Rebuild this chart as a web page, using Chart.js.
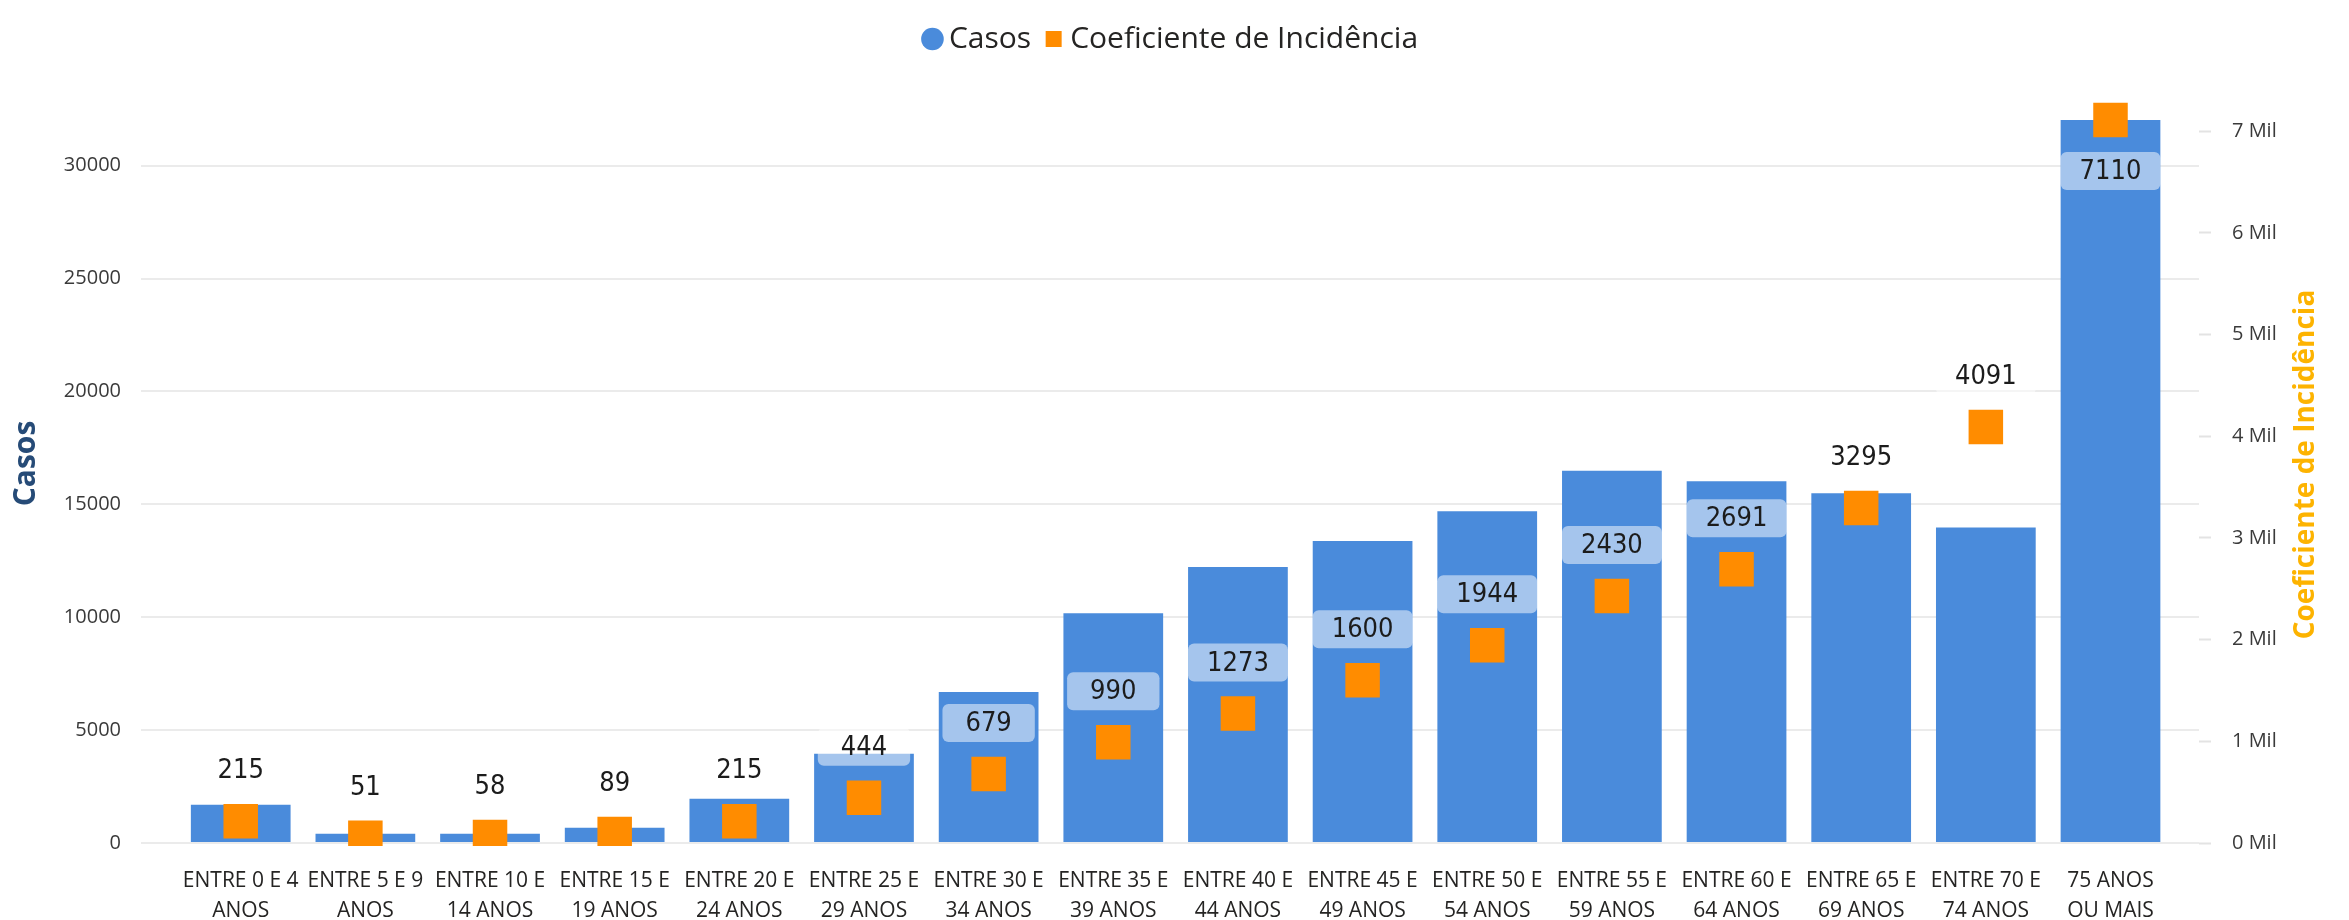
<!DOCTYPE html>
<html>
<head>
<meta charset="utf-8">
<script src="https://cdn.jsdelivr.net/npm/chart.js@4.4.1/dist/chart.umd.min.js"></script>
<style>
  html, body { margin: 0; padding: 0; background: #fff; }
  #wrap { width: 2349px; height: 920px; position: relative; }
</style>
</head>
<body>
<div id="wrap"><canvas id="chart"></canvas></div>
<script>
/* ---- data ---- */
const categories = [
  ['ENTRE 0 E 4', 'ANOS'], ['ENTRE 5 E 9', 'ANOS'], ['ENTRE 10 E', '14 ANOS'], ['ENTRE 15 E', '19 ANOS'],
  ['ENTRE 20 E', '24 ANOS'], ['ENTRE 25 E', '29 ANOS'], ['ENTRE 30 E', '34 ANOS'], ['ENTRE 35 E', '39 ANOS'],
  ['ENTRE 40 E', '44 ANOS'], ['ENTRE 45 E', '49 ANOS'], ['ENTRE 50 E', '54 ANOS'], ['ENTRE 55 E', '59 ANOS'],
  ['ENTRE 60 E', '64 ANOS'], ['ENTRE 65 E', '69 ANOS'], ['ENTRE 70 E', '74 ANOS'], ['75 ANOS', 'OU MAIS']
];
const casos = [1690, 410, 410, 680, 1960, 3950, 6690, 10180, 12220, 13370, 14690, 16490, 16020, 15490, 13970, 32020];
const coeficiente = [215, 51, 58, 89, 215, 444, 679, 990, 1273, 1600, 1944, 2430, 2691, 3295, 4091, 7110];
const seriesNames = ['Casos', 'Coeficiente de Incidência'];
const leftTitle = 'Casos';
const rightTitle = 'Coeficiente de Incidência';
const leftStep = 5000;   // Casos axis tick step
const rightStep = 1000;  // Coeficiente axis tick step ("Mil")

const FONT = "'Open Sans', 'Noto Sans', sans-serif";
const BLUE = '#4A8BDB', ORANGE = '#FF8C00';

function stepTicks(scale, step) {
  const t = [];
  for (let v = 0; v <= scale.max; v += step) t.push({ value: v });
  scale.ticks = t;
}

// value labels over the orange squares, on a half-transparent white box
const coefLabels = {
  id: 'coefLabels',
  afterDatasetsDraw(chart) {
    const { ctx, chartArea } = chart;
    const bars = chart.getDatasetMeta(0).data;
    const pts = chart.getDatasetMeta(1).data;
    ctx.save();
    ctx.font = "27px 'DejaVu Sans Condensed', 'DejaVu Sans', sans-serif";
    ctx.textAlign = 'center';
    ctx.textBaseline = 'middle';
    pts.forEach((pt, i) => {
      const txt = String(coeficiente[i]);
      const w = Math.min(ctx.measureText(txt).width + 46, bars[i].width), h = 38, gap = 51;
      let cy = pt.y - gap;
      if (cy - h / 2 < chartArea.top) cy = pt.y + gap;
      ctx.fillStyle = 'rgba(255,255,255,0.5)';
      ctx.beginPath();
      ctx.roundRect(pt.x - w / 2, cy - h / 2, w, h, 6);
      ctx.fill();
      ctx.fillStyle = '#1c1c1c';
      ctx.fillText(txt, pt.x, cy + 1);
    });
    ctx.restore();
  }
};

// axis titles (right one reads bottom-to-top, which Chart.js does not do)
const axisTitles = {
  id: 'axisTitles',
  afterDraw(chart) {
    const { ctx, chartArea } = chart;
    const cy = (chartArea.top + chartArea.bottom) / 2 - 18;
    ctx.save();
    ctx.textAlign = 'center';
    ctx.textBaseline = 'middle';
    ctx.font = "bold 30px " + FONT;
    ctx.fillStyle = '#264B77';
    ctx.translate(26, cy); ctx.rotate(-Math.PI / 2);
    ctx.fillText(leftTitle, 0, 0);
    ctx.setTransform(1, 0, 0, 1, 0, 0);
    ctx.font = "bold 28px " + FONT;
    ctx.fillStyle = '#FDB300';
    ctx.translate(2306, cy + 1); ctx.rotate(-Math.PI / 2);
    ctx.fillText(rightTitle, 0, 0);
    ctx.restore();
  }
};

const legendSpace = {
  id: 'legendSpace',
  beforeInit(chart) {
    const fit = chart.legend.fit;
    chart.legend.fit = function () { fit.call(this); this.height = 117; };
  }
};

new Chart(document.getElementById('chart'), {
  type: 'bar',
  data: {
    datasets: [
      {
        type: 'bar', label: seriesNames[0], order: 1,
        data: casos.map((v, i) => ({ x: i, y: v })),
        backgroundColor: BLUE, borderWidth: 0, pointStyle: 'circle',
        categoryPercentage: 0.8, barPercentage: 1, yAxisID: 'y'
      },
      {
        type: 'scatter', label: seriesNames[1], order: 0,
        data: coeficiente.map((v, i) => ({ x: i, y: v })),
        backgroundColor: ORANGE, borderColor: ORANGE, borderWidth: 0,
        pointStyle: 'rect', pointRadius: 24.4, pointHoverRadius: 24.4,
        yAxisID: 'y2', clip: { left: false, top: false, right: false, bottom: 3 }
      }
    ]
  },
  options: {
    responsive: true,
    maintainAspectRatio: false,
    animation: false,
    events: [],
    layout: { padding: { top: 3, left: 0, right: 0, bottom: 0 } },
    plugins: {
      tooltip: { enabled: false },
      legend: {
        position: 'top', align: 'center',
        labels: {
          usePointStyle: true, boxWidth: 3, boxHeight: 16, padding: 21,
          sort: (a, b) => a.datasetIndex - b.datasetIndex,
          color: '#252423', font: { family: FONT, size: 30 }
        }
      }
    },
    scales: {
      x: {
        type: 'linear', offset: false, min: -0.8, max: categories.length - 1 + 0.71,
        afterFit: (s) => { s.height = 77; },
        grid: { display: false, drawTicks: false }, border: { display: false },
        afterBuildTicks: (s) => { s.ticks = categories.map((_, i) => ({ value: i })); },
        ticks: {
          callback: (v) => categories[v], autoSkip: false, maxRotation: 0, padding: 23,
          color: '#252423', font: { family: FONT, size: 21, lineHeight: 1.43 }
        }
      },
      y: {
        position: 'left', min: 0, max: Math.max(...casos),
        afterFit: (s) => { s.width = 141; },
        afterBuildTicks: (s) => stepTicks(s, leftStep),
        border: { display: false },
        grid: { color: '#EBEBEB', lineWidth: 2, drawTicks: false },
        ticks: { padding: 20, color: '#3a3a3a', font: { family: FONT, size: 20 }, callback: (v) => String(v) }
      },
      y2: {
        position: 'right', min: 0, max: Math.max(...coeficiente),
        afterFit: (s) => { s.width = 150; },
        afterBuildTicks: (s) => stepTicks(s, rightStep),
        border: { display: false },
        grid: { drawOnChartArea: false, drawTicks: true, tickLength: 12, tickColor: '#E3E3E3', tickWidth: 2 },
        ticks: {
          padding: 21, color: '#3a3a3a',
          font: { family: FONT, size: 20 }, callback: (v) => (v / 1000) + ' Mil'
        }
      }
    }
  },
  plugins: [legendSpace, coefLabels, axisTitles]
});
</script>
</body>
</html>
